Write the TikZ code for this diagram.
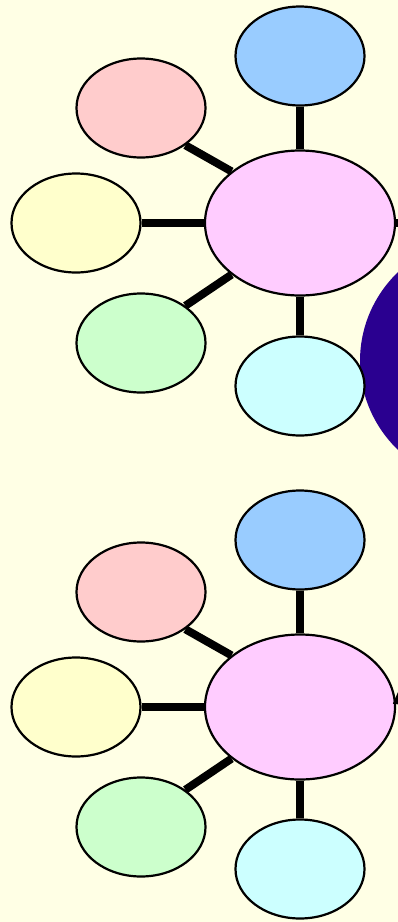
\documentclass[tikz,border=0pt]{standalone}
\usetikzlibrary{shapes.geometric,arrows.meta}
\pgfdeclarelayer{bg}
\pgfsetlayers{bg,main}
\definecolor{bgc}{RGB}{255,255,229}
\definecolor{cblue}{RGB}{153,204,255}
\definecolor{cpink}{RGB}{255,204,204}
\definecolor{cyellow}{RGB}{255,255,204}
\definecolor{cmag}{RGB}{255,204,255}
\definecolor{cgreen}{RGB}{204,255,204}
\definecolor{ccyan}{RGB}{204,255,255}
\definecolor{cpurple}{RGB}{42,0,144}
\tikzset{
  bub/.style={ellipse,draw=black,line width=2.2pt,inner sep=0pt,minimum width=129pt,minimum height=99pt},
  hub/.style={ellipse,draw=black,line width=2.2pt,inner sep=0pt,minimum width=190pt,minimum height=145pt,fill=cmag},
  conn/.style={line width=8pt,black},
}
\begin{document}
\begin{tikzpicture}[x=1pt,y=-1pt]
\useasboundingbox (0,0) rectangle (398,922);
\begin{pgfonlayer}{bg}
\fill[bgc] (0,0) rectangle (398,922);
\begin{scope}
\clip (0,0) rectangle (398,922);
\fill[cpurple] (483,361) circle[radius=123pt];
\end{scope}
\end{pgfonlayer}
% top cluster
\node[hub] (m1) at (300,223) {};
\node[bub,fill=cblue] (b1) at (300,56) {};
\node[bub,fill=cpink] (p1) at (141,108) {};
\node[bub,fill=cyellow] (y1) at (76,223) {};
\node[bub,fill=cgreen] (g1) at (141,343) {};
\node[bub,fill=ccyan] (c1) at (300,386) {};
\coordinate (o1) at (430,223);
\begin{pgfonlayer}{bg}
\draw[conn] (b1) -- (m1);
\draw[conn] (p1.-40) -- (m1.143);
\draw[conn] (y1) -- (m1);
\draw[conn] (g1.40) -- (m1.-143);
\draw[conn] (c1) -- (m1);
\end{pgfonlayer}
\draw[conn] (o1) -- (m1.east);
% bottom cluster
\node[hub] (m2) at (300,707) {};
\node[bub,fill=cblue] (b2) at (300,540) {};
\node[bub,fill=cpink] (p2) at (141,592) {};
\node[bub,fill=cyellow] (y2) at (76,707) {};
\node[bub,fill=cgreen] (g2) at (141,827) {};
\node[bub,fill=ccyan] (c2) at (300,869) {};
\coordinate (o2) at (482,653);
\draw[line width=1pt,shorten >=-3.5pt,-{Triangle[length=11pt,width=16pt]}] (o2) -- (m2.3);
\begin{pgfonlayer}{bg}
\draw[conn] (b2) -- (m2);
\draw[conn] (p2.-40) -- (m2.143);
\draw[conn] (y2) -- (m2);
\draw[conn] (g2.40) -- (m2.-143);
\draw[conn] (c2) -- (m2);
\end{pgfonlayer}
\end{tikzpicture}
\end{document}
